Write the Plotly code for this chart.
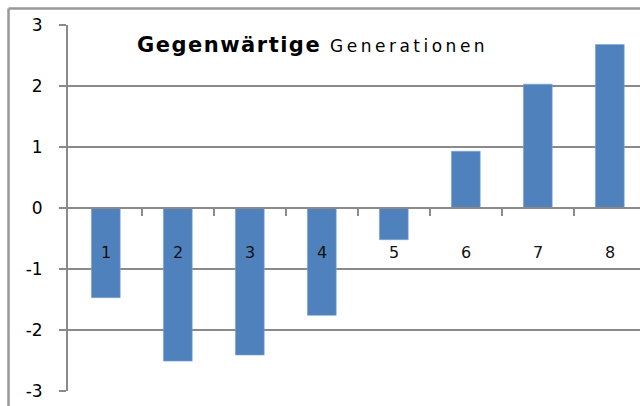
import plotly.graph_objects as go

categories = ["1", "2", "3", "4", "5", "6", "7", "8"]
values = [-1.47, -2.51, -2.41, -1.76, -0.52, 0.93, 2.03, 2.68]
y_ticks = [-3, -2, -1, 0, 1, 2, 3]
title_bold = "Gegenwärtige"
title_rest = "Generationen"

grid_col = "#8a8a8a"
FONT = "DejaVu Sans, Arial"
fig = go.Figure()
fig.add_trace(go.Bar(
    x=list(range(1, 9)), y=values, width=0.4,
    marker=dict(color="#4f81bd", line=dict(color="#7ea3d3", width=0.6)),
    hoverinfo="skip",
))

# category labels sitting just below the zero line
for i, c in enumerate(categories):
    fig.add_annotation(x=i + 1, y=0, text=c, showarrow=False, yshift=-44,
                       font=dict(family=FONT, size=16, color="#111"),
                       xanchor="center", yanchor="middle")

fig.add_annotation(
    xref="paper", yref="paper", x=0.117, y=0.945, xanchor="left", yanchor="middle",
    text=(f"<span style='letter-spacing:1.5px'><b>{title_bold}</b></span>"
          f"<span style='font-size:17px;letter-spacing:3.5px'> {title_rest}</span>"),
    showarrow=False, font=dict(family=FONT, size=21, color="#000"),
)

# outer frame (top and left borders)
fig.add_shape(type="line", xref="paper", yref="paper", x0=-0.104, x1=1.05, y0=1.045, y1=1.045,
              line=dict(color="#999", width=2.5))
fig.add_shape(type="line", xref="paper", yref="paper", x0=-0.104, x1=-0.104, y0=-0.1, y1=1.045,
              line=dict(color="#999", width=2.5))

x_start = 0.475
fig.update_layout(
    width=640, height=406,
    margin=dict(l=68, r=0, t=25, b=15),
    paper_bgcolor="white", plot_bgcolor="white",
    showlegend=False,
    xaxis=dict(
        range=[x_start, x_start + 572 / 72], tickmode="array",
        tickvals=[k + 0.5 for k in range(1, 8)], ticktext=[""] * 7,
        ticks="outside", ticklen=7, tickwidth=2, tickcolor=grid_col,
        showline=True, linecolor=grid_col, linewidth=2,
        anchor="free", position=0.5, showgrid=False, zeroline=False,
    ),
    yaxis=dict(
        range=[-3, 3], tickvals=y_ticks, ticktext=[str(v) for v in y_ticks],
        ticks="outside", ticklen=7, tickwidth=2, tickcolor=grid_col,
        showline=True, linecolor=grid_col, linewidth=2,
        showgrid=True, gridcolor=grid_col, gridwidth=2,
        zeroline=True, zerolinecolor=grid_col, zerolinewidth=2,
        tickfont=dict(family=FONT, size=17, color="#000"),
        ticklabelstandoff=13,
    ),
    bargap=0.6,
)

fig.write_html("out.html", config={"displayModeBar": False, "staticPlot": True},
               post_script="document.body.style.margin='0';document.body.style.overflow='hidden';")
